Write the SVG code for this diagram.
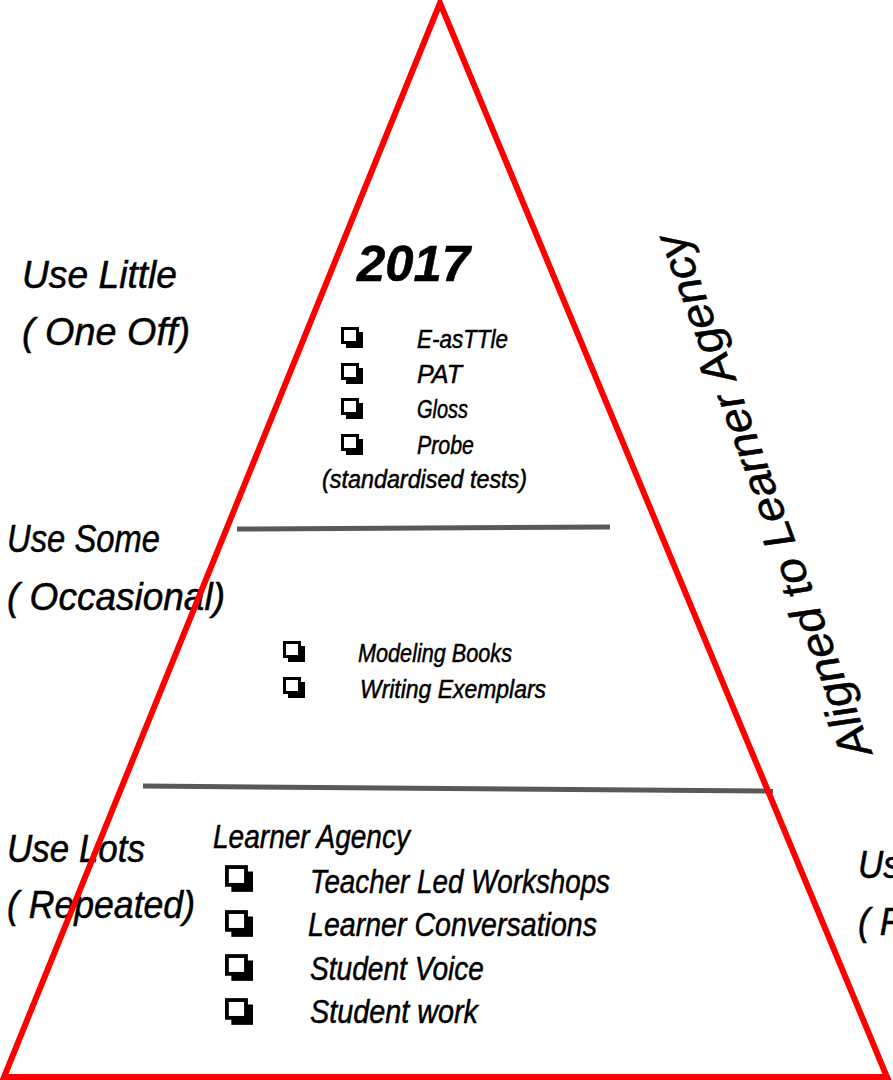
<svg xmlns="http://www.w3.org/2000/svg" xmlns:xlink="http://www.w3.org/1999/xlink" width="893" height="1080" viewBox="0 0 893 1080">
<style>
.t{font-family:"Liberation Sans","DejaVu Sans",sans-serif;font-style:italic;fill:#000;stroke:#000;stroke-width:0.5}
.lbl{font-size:38px}
.item{font-size:25px}
.big{font-size:33px}
.sep{stroke:#595959;stroke-width:5;fill:none}
.tri{stroke:#ff0000;stroke-width:6;fill:none;stroke-linejoin:miter}
</style>
<defs>
<symbol id="cb" viewBox="0 0 22 21">
<rect x="5" y="5" width="17" height="16" fill="#000"/>
<rect x="1.5" y="1.5" width="15" height="14" fill="#fff" stroke="#000" stroke-width="3"/>
</symbol>
</defs>
<rect width="893" height="1080" fill="#fff"/>
<g id="labels-left">
<text class="t lbl" x="22" y="288" textLength="155" lengthAdjust="spacingAndGlyphs">Use Little</text>
<text class="t lbl" x="22" y="345" textLength="168" lengthAdjust="spacingAndGlyphs">( One Off)</text>
<text class="t lbl" x="7" y="552" textLength="153" lengthAdjust="spacingAndGlyphs">Use Some</text>
<text class="t lbl" x="7" y="610" textLength="218" lengthAdjust="spacingAndGlyphs">( Occasional)</text>
<text class="t lbl" x="7" y="862" textLength="138" lengthAdjust="spacingAndGlyphs">Use Lots</text>
<text class="t lbl" x="7" y="918" textLength="188" lengthAdjust="spacingAndGlyphs">( Repeated)</text>
</g>
<g id="labels-right">
<text class="t lbl" x="858" y="878" textLength="138" lengthAdjust="spacingAndGlyphs">Use Lots</text>
<text class="t lbl" x="858" y="935" textLength="188" lengthAdjust="spacingAndGlyphs">( Repeated)</text>
</g>
<g id="top-tier">
<text class="t" x="357" y="281" font-size="50" font-weight="bold" textLength="113" lengthAdjust="spacingAndGlyphs">2017</text>
<use href="#cb" x="341" y="327" width="22" height="21"/>
<use href="#cb" x="341" y="363" width="22" height="21"/>
<use href="#cb" x="341" y="398" width="22" height="21"/>
<use href="#cb" x="341" y="434" width="22" height="21"/>
<text class="t item" x="417" y="348" textLength="91" lengthAdjust="spacingAndGlyphs">E-asTTle</text>
<text class="t item" x="417" y="383" textLength="45" lengthAdjust="spacingAndGlyphs">PAT</text>
<text class="t item" x="417" y="418" textLength="51" lengthAdjust="spacingAndGlyphs">Gloss</text>
<text class="t item" x="417" y="454" textLength="57" lengthAdjust="spacingAndGlyphs">Probe</text>
<text class="t item" x="322" y="488" textLength="205" lengthAdjust="spacingAndGlyphs">(standardised tests)</text>
</g>
<g id="middle-tier">
<use href="#cb" x="283" y="641" width="22" height="21"/>
<use href="#cb" x="283" y="677" width="22" height="21"/>
<text class="t item" x="358" y="662" textLength="154" lengthAdjust="spacingAndGlyphs">Modeling Books</text>
<text class="t item" x="360" y="698" textLength="186" lengthAdjust="spacingAndGlyphs">Writing Exemplars</text>
</g>
<g id="bottom-tier">
<text class="t big" x="213" y="848" textLength="197" lengthAdjust="spacingAndGlyphs">Learner Agency</text>
<use href="#cb" x="225" y="865" width="28" height="27"/>
<use href="#cb" x="225" y="910" width="28" height="27"/>
<use href="#cb" x="225" y="954" width="28" height="27"/>
<use href="#cb" x="225" y="998" width="28" height="27"/>
<text class="t big" x="310" y="893" textLength="300" lengthAdjust="spacingAndGlyphs">Teacher Led Workshops</text>
<text class="t big" x="308" y="936" textLength="289" lengthAdjust="spacingAndGlyphs">Learner Conversations</text>
<text class="t big" x="310" y="980" textLength="174" lengthAdjust="spacingAndGlyphs">Student Voice</text>
<text class="t big" x="310" y="1023" textLength="168" lengthAdjust="spacingAndGlyphs">Student work</text>
</g>
<g id="side-label">
<text class="t" font-size="44" transform="translate(872,752) rotate(-110)" textLength="555" lengthAdjust="spacingAndGlyphs">Aligned to Learner Agency</text>
</g>
<g id="connectors">
<line class="sep" x1="237" y1="529" x2="610" y2="527"/>
<line class="sep" x1="143" y1="786" x2="773" y2="791"/>
<polygon id="pyramid" class="tri" points="440,3 4,1077 887,1077"/>
</g>
</svg>
